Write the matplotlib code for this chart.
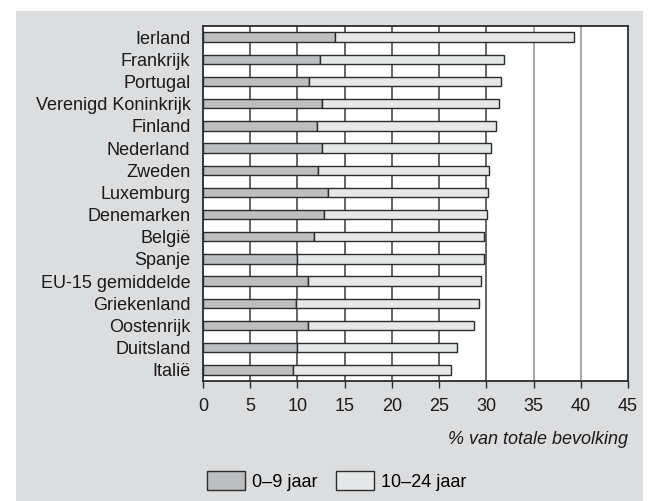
# Jongeren in de EU: aandeel 0-9 en 10-24 jaar in de totale bevolking

import matplotlib
matplotlib.use("Agg")
import matplotlib.pyplot as plt
from matplotlib.patches import Rectangle, Patch

landen = ["Ierland", "Frankrijk", "Portugal", "Verenigd Koninkrijk", "Finland",
          "Nederland", "Zweden", "Luxemburg", "Denemarken", "België", "Spanje",
          "EU-15 gemiddelde", "Griekenland", "Oostenrijk", "Duitsland", "Italië"]

# % van totale bevolking, 0-9 jaar
jong = [14.0, 12.4, 11.2, 12.6, 12.1, 12.6, 12.2, 13.2,
        12.8, 11.7, 9.9, 11.1, 9.8, 11.1, 10.0, 9.5]
# % van totale bevolking, 10-24 jaar
ouder = [25.3, 19.5, 20.4, 18.7, 18.9, 17.9, 18.1, 17.0,
         17.3, 18.1, 19.9, 18.3, 19.4, 17.6, 16.9, 16.8]

xticks = [0, 5, 10, 15, 20, 25, 30, 35, 40, 45]

plt.rcParams['font.family'] = ['Liberation Sans', 'DejaVu Sans']

fig = plt.figure(figsize=(6.53, 5.01), dpi=100)
fig.patches.append(Rectangle((16/653, 0), 627/653, 1 - 11/501, transform=fig.transFigure,
                             facecolor="#dcdddf", edgecolor="none", zorder=-5))

ax = fig.add_axes([203/653, 1 - 381/501, 425/653, 355/501])
ax.set_facecolor("white")

y = list(range(len(landen)))
ax.barh(y, jong, height=0.42, color="#bdbec0", edgecolor="#2b2b2b", linewidth=1, zorder=3)
ax.barh(y, ouder, left=jong, height=0.42, color="#e6e7e8", edgecolor="#2b2b2b",
        linewidth=1, zorder=3)

for t in xticks[1:-1]:
    kleur = "#4a4a4a" if t <= 30 else "#9a9a9a"
    ax.axvline(t, color=kleur, linewidth=1.2, zorder=1)

ax.set_xlim(0, 45)
ax.set_ylim(15.5, -0.5)
ax.set_xticks(xticks)
ax.set_yticks(y)
ax.set_yticklabels(landen)
ax.tick_params(axis="y", length=0, pad=9, labelsize=13, labelcolor="#1a1a1a")
ax.tick_params(axis="x", length=5, width=1, color="#2b2b2b", pad=7, labelsize=13,
               labelcolor="#1a1a1a")
for s in ax.spines.values():
    s.set_color("#2b2b2b")
    s.set_linewidth(1.3)

ax.set_xlabel("% van totale bevolking", fontsize=13, style="italic", color="#1a1a1a",
              loc="right", labelpad=12)

handles = [Patch(facecolor="#bdbec0", edgecolor="#2b2b2b", label="0–9 jaar"),
           Patch(facecolor="#e6e7e8", edgecolor="#2b2b2b", label="10–24 jaar")]
fig.legend(handles=handles, loc="upper left", bbox_to_anchor=(191/653, 1 - 455/501),
           ncol=2, frameon=False, fontsize=13, handlelength=2.1, handleheight=1.25,
           handletextpad=0.4, columnspacing=1.0)

fig.savefig("out.png", dpi=100)
